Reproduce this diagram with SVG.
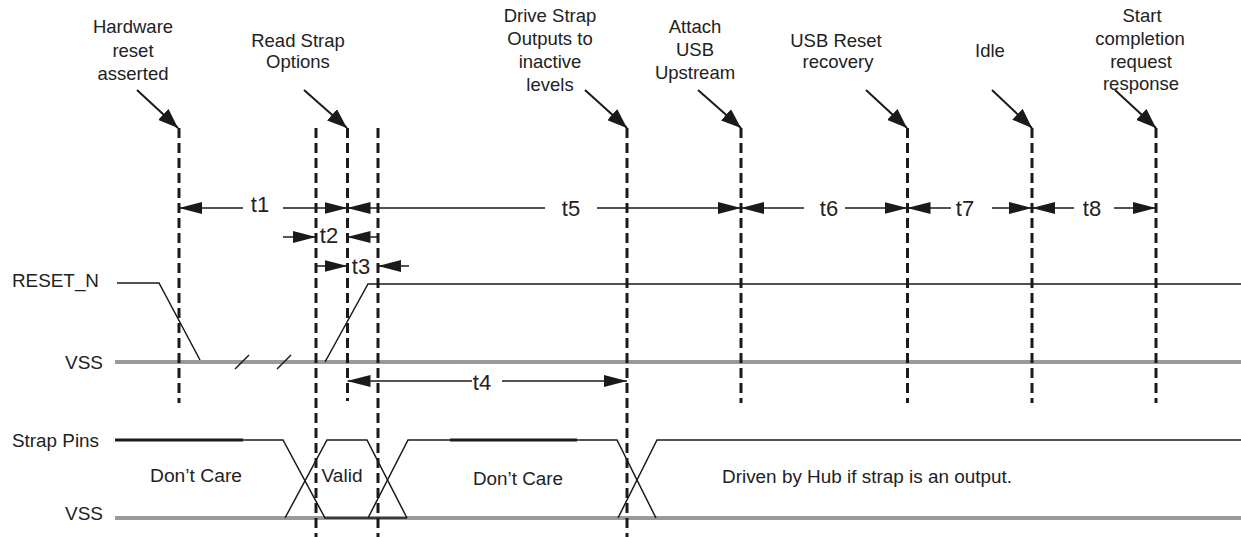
<svg xmlns="http://www.w3.org/2000/svg" width="1241" height="537" viewBox="0 0 1241 537">
<style>
text{font-family:"Liberation Sans",Arial,sans-serif;fill:#222}
.lbl{font-size:18.5px;text-anchor:middle}
.side{font-size:18px}
.tl{font-size:22px;text-anchor:middle}
.wav{font-size:17.5px}
.dash{stroke:#1a1a1a;stroke-width:3;stroke-dasharray:10 5;fill:none}
.dim{stroke:#1a1a1a;stroke-width:1.5;fill:none;marker-end:url(#dimArrow)}
.call{stroke:#1a1a1a;stroke-width:2;fill:none;marker-end:url(#callArrow)}
.sig{stroke:#1a1a1a;stroke-width:1.5;fill:none}
.sigb{stroke:#1a1a1a;stroke-width:3;fill:none}
.vss{stroke:#9a9a9a;stroke-width:4;fill:none}
</style>
<defs>
<marker id="dimArrow" viewBox="0 0 10 10" refX="10" refY="5" markerWidth="23" markerHeight="12" markerUnits="userSpaceOnUse" orient="auto" preserveAspectRatio="none">
<path d="M0,0 L10,5 L0,10 z" fill="#1a1a1a"/>
</marker>
<marker id="callArrow" viewBox="0 0 10 10" refX="10" refY="5" markerWidth="20" markerHeight="15" markerUnits="userSpaceOnUse" orient="auto" preserveAspectRatio="none">
<path d="M0,0 L10,5 L0,10 z" fill="#1a1a1a"/>
</marker>
</defs>
<rect width="1241" height="537" fill="#fff"/>

<g id="labels">
<g id="lbl-hw"><text class="lbl" x="133" y="33">Hardware</text><text class="lbl" x="133" y="57">reset</text><text class="lbl" x="133" y="80">asserted</text></g>
<g id="lbl-read"><text class="lbl" x="298" y="47">Read Strap</text><text class="lbl" x="298" y="68">Options</text></g>
<g id="lbl-drive"><text class="lbl" x="550" y="22">Drive Strap</text><text class="lbl" x="550" y="45">Outputs to</text><text class="lbl" x="550" y="68">inactive</text><text class="lbl" x="550" y="91">levels</text></g>
<g id="lbl-attach"><text class="lbl" x="695" y="33">Attach</text><text class="lbl" x="695" y="56">USB</text><text class="lbl" x="695" y="79">Upstream</text></g>
<g id="lbl-usbreset"><text class="lbl" x="836" y="47">USB Reset</text><text class="lbl" x="838" y="68">recovery</text></g>
<g id="lbl-idle"><text class="lbl" x="990" y="57">Idle</text></g>
<g id="lbl-start"><text class="lbl" x="1142" y="22">Start</text><text class="lbl" x="1140" y="45">completion</text><text class="lbl" x="1141" y="68">request</text><text class="lbl" x="1141" y="90">response</text></g>
</g>

<g id="signals">
<g id="reset-n">
<text class="side" x="12" y="287" textLength="87" lengthAdjust="spacingAndGlyphs">RESET_N</text>
<text class="side" x="65" y="369" textLength="38" lengthAdjust="spacingAndGlyphs">VSS</text>
<line class="vss" x1="115" y1="362" x2="1241" y2="362"/>
<polyline class="sig" points="117,283 159,283 200,360"/>
<polyline class="sig" points="325,362 368,284 1241,284"/>
<line class="sig" x1="235" y1="369" x2="249" y2="355"/>
<line class="sig" x1="277" y1="369" x2="291" y2="355"/>
</g>
<g id="strap-pins">
<text class="side" x="12" y="447" textLength="87" lengthAdjust="spacingAndGlyphs">Strap Pins</text>
<text class="side" x="65" y="520" textLength="38" lengthAdjust="spacingAndGlyphs">VSS</text>
<line class="vss" x1="115" y1="518" x2="1241" y2="518"/>
<line class="sigb" x1="115" y1="440" x2="243" y2="440"/>
<polyline class="sig" points="243,440 283,440 325,518 367,518 407,518"/>
<polyline class="sig" points="285,518 327,440 367,440 407,518"/>
<polyline class="sig" points="368,518 408,440 617,440 656,518"/>
<polyline class="sig" points="618,518 657,440 1241,440"/>
<line class="sigb" x1="450" y1="440" x2="577" y2="440"/>
<text class="wav" x="196" y="482" text-anchor="middle" textLength="92" lengthAdjust="spacingAndGlyphs">Don’t Care</text>
<text class="wav" x="342" y="482" text-anchor="middle" textLength="41" lengthAdjust="spacingAndGlyphs">Valid</text>
<text class="wav" x="518" y="485" text-anchor="middle" textLength="90" lengthAdjust="spacingAndGlyphs">Don’t Care</text>
<text class="wav" x="722" y="483" textLength="290" lengthAdjust="spacingAndGlyphs">Driven by Hub if strap is an output.</text>
</g>
</g>

<g id="connectors">
<line class="dash" x1="179" y1="128" x2="179" y2="403"/>
<line class="dash" x1="316" y1="128" x2="316" y2="537"/>
<line class="dash" x1="347.5" y1="128" x2="347.5" y2="401"/>
<line class="dash" x1="378" y1="128" x2="378" y2="537"/>
<line class="dash" x1="627" y1="128" x2="627" y2="537"/>
<line class="dash" x1="741" y1="128" x2="741" y2="403"/>
<line class="dash" x1="907.5" y1="128" x2="907.5" y2="403"/>
<line class="dash" x1="1032" y1="128" x2="1032" y2="403"/>
<line class="dash" x1="1156" y1="128" x2="1156" y2="403"/>

<line class="call" x1="137" y1="90" x2="178" y2="128"/>
<line class="call" x1="304" y1="90" x2="347" y2="128"/>
<line class="call" x1="585" y1="90" x2="627" y2="128"/>
<line class="call" x1="698" y1="90" x2="741" y2="128"/>
<line class="call" x1="866" y1="90" x2="907" y2="128"/>
<line class="call" x1="992" y1="90" x2="1032" y2="128"/>
<line class="call" x1="1115" y1="90" x2="1156" y2="128"/>

<line class="dim" x1="243" y1="208" x2="179" y2="208"/>
<line class="dim" x1="283" y1="208" x2="347.5" y2="208"/>
<line class="dim" x1="545" y1="208" x2="347.5" y2="208"/>
<line class="dim" x1="597" y1="208" x2="741" y2="208"/>
<line class="dim" x1="804" y1="208" x2="741" y2="208"/>
<line class="dim" x1="845" y1="208" x2="907.5" y2="208"/>
<line class="dim" x1="951" y1="208" x2="907.5" y2="208"/>
<line class="dim" x1="992" y1="208" x2="1032" y2="208"/>
<line class="dim" x1="1074" y1="208" x2="1032" y2="208"/>
<line class="dim" x1="1114" y1="208" x2="1156" y2="208"/>

<line class="dim" x1="283" y1="237" x2="316" y2="237"/>
<line class="dim" x1="378" y1="237" x2="347.5" y2="237"/>
<line class="dim" x1="316" y1="266" x2="347.5" y2="266"/>
<line class="dim" x1="409" y1="266" x2="378" y2="266"/>
<line class="dim" x1="472" y1="381" x2="347.5" y2="381"/>
<line class="dim" x1="502" y1="381" x2="627" y2="381"/>
</g>

<g id="timing-labels">
<text class="tl" x="260" y="212">t1</text>
<text class="tl" x="329" y="243">t2</text>
<text class="tl" x="361" y="274">t3</text>
<text class="tl" x="482" y="390">t4</text>
<text class="tl" x="571" y="216">t5</text>
<text class="tl" x="829" y="216">t6</text>
<text class="tl" x="965" y="216">t7</text>
<text class="tl" x="1092" y="216">t8</text>
</g>
</svg>
